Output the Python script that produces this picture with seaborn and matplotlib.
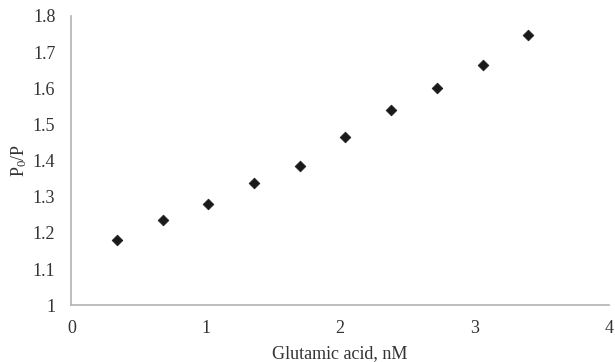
import matplotlib
matplotlib.use("Agg")
import matplotlib.pyplot as plt
import pandas as pd
import seaborn as sns

# Data
glutamic_nm = [0.34, 0.68, 1.02, 1.36, 1.70, 2.04, 2.38, 2.72, 3.06, 3.40]
p0_over_p = [1.181, 1.235, 1.280, 1.338, 1.386, 1.465, 1.540, 1.600, 1.663, 1.747]
x_ticks = [0, 1, 2, 3, 4]
y_ticks = [1, 1.1, 1.2, 1.3, 1.4, 1.5, 1.6, 1.7, 1.8]
y_tick_labels = ["1", "1.1", "1.2", "1.3", "1.4", "1.5", "1.6", "1.7", "1.8"]

sns.set_theme(style="white")
plt.rcParams["font.family"] = ["Liberation Serif", "DejaVu Serif"]
plt.rcParams["mathtext.default"] = "regular"

df = pd.DataFrame({"x": glutamic_nm, "y": p0_over_p})

fig, ax = plt.subplots(figsize=(6.15, 3.62), dpi=100)
sns.scatterplot(data=df, x="x", y="y", ax=ax, marker="D", s=30,
                color="#1a1a1a", edgecolor="#1a1a1a", linewidth=0.5)

ax.set_xlim(0, 4)
ax.set_ylim(1, 1.8)
ax.set_xticks(x_ticks)
ax.set_yticks(y_ticks)
ax.set_yticklabels(y_tick_labels)
ax.tick_params(axis="x", length=0, labelsize=13, colors="#333333", pad=11)
ax.tick_params(axis="y", length=0, labelsize=13, colors="#333333", pad=11.5)

for side in ["top", "right"]:
    ax.spines[side].set_visible(False)
for side in ["left", "bottom"]:
    ax.spines[side].set_color("#b3b3b3")
    ax.spines[side].set_linewidth(1.2)

ax.set_xlabel("Glutamic acid, nM", fontsize=13, color="#333333", labelpad=5.5)
ax.set_ylabel("P$_0$/P", fontsize=13, color="#333333", labelpad=3)

fig.subplots_adjust(left=0.116, right=0.99, top=0.956, bottom=0.157)
fig.savefig("out.png", dpi=100)
